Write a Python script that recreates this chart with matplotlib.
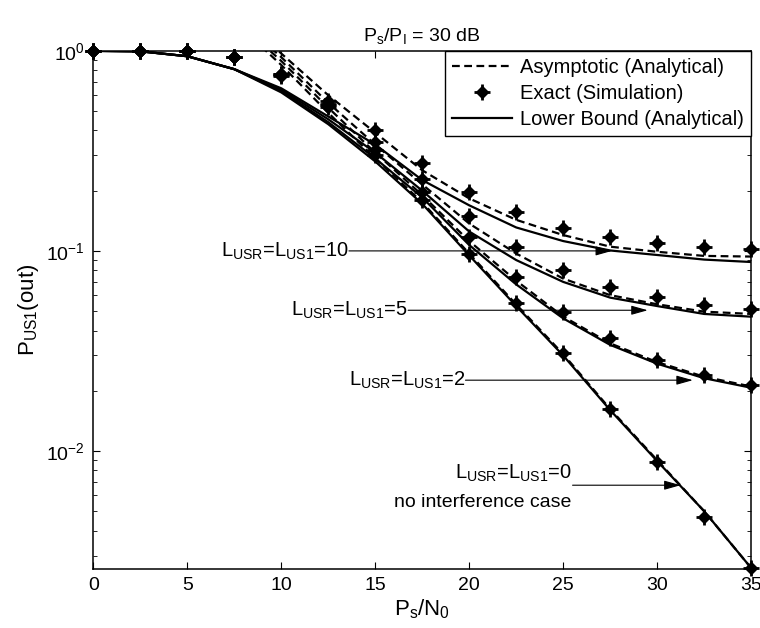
import numpy as np
import matplotlib
matplotlib.use("Agg")
import matplotlib.pyplot as plt
from matplotlib.lines import Line2D

plt.rcParams['font.family'] = ['Liberation Sans', 'DejaVu Sans']
plt.rcParams['mathtext.default'] = 'regular'

# SNR grid (dB)
snr = [0, 2.5, 5, 7.5, 10, 12.5, 15, 17.5, 20, 22.5, 25, 27.5, 30, 32.5, 35]
cases = [10, 5, 2, 0]

# exact (simulation) markers, one list per L_USR = L_US1
exact_L10 = [1.0, 1.0, 0.995, 0.935, 0.77, 0.56, 0.401, 0.274, 0.197, 0.157, 0.130, 0.118, 0.110, 0.104, 0.1017]
exact_L5 = [1.0, 1.0, 0.995, 0.935, 0.765, 0.545, 0.351, 0.228, 0.149, 0.105, 0.080, 0.0662, 0.0589, 0.0535, 0.0515]
exact_L2 = [1.0, 1.0, 0.995, 0.935, 0.755, 0.535, 0.319, 0.197, 0.118, 0.074, 0.0494, 0.0365, 0.0286, 0.0239, 0.0213]
exact_L0 = [1.0, 1.0, 0.995, 0.935, 0.745, 0.525, 0.301, 0.179, 0.097, 0.0546, 0.0307, 0.0162, 0.0088, 0.0047, 0.0026]

# lower bound (analytical)
lower_L10 = [1.0, 0.995, 0.94, 0.81, 0.65, 0.47, 0.34, 0.226, 0.169, 0.131, 0.112, 0.1005, 0.0954, 0.0905, 0.088]
lower_L5 = [1.0, 0.995, 0.94, 0.81, 0.64, 0.455, 0.31, 0.20, 0.125, 0.090, 0.070, 0.0584, 0.053, 0.0484, 0.0469]
lower_L2 = [1.0, 0.995, 0.94, 0.81, 0.63, 0.44, 0.29, 0.185, 0.107, 0.068, 0.046, 0.0339, 0.0273, 0.0231, 0.0207]
lower_L0 = [1.0, 0.995, 0.94, 0.81, 0.62, 0.43, 0.28, 0.172, 0.095, 0.053, 0.030, 0.016, 0.0089, 0.005, 0.0026]

# asymptotic (analytical), from 7.5 dB on (above 1 it is off the plot)
snr_asym = snr[3:]
asym_L10 = [1.6, 0.97, 0.60, 0.39, 0.253, 0.183, 0.143, 0.120, 0.105, 0.099, 0.0944, 0.0937]
asym_L5 = [1.5, 0.93, 0.55, 0.34, 0.215, 0.137, 0.097, 0.0727, 0.0601, 0.0541, 0.0497, 0.0484]
asym_L2 = [1.45, 0.89, 0.52, 0.31, 0.19, 0.112, 0.071, 0.047, 0.0345, 0.0278, 0.0235, 0.021]
asym_L0 = [1.4, 0.85, 0.49, 0.29, 0.175, 0.097, 0.054, 0.0305, 0.0162, 0.009, 0.005, 0.0026]

exact = [exact_L10, exact_L5, exact_L2, exact_L0]
lower = [lower_L10, lower_L5, lower_L2, lower_L0]
asym = [asym_L10, asym_L5, asym_L2, asym_L0]

fig = plt.figure(figsize=(7.6, 6.28), dpi=100)
ax = fig.add_axes([0.1228, 0.094, 0.8655, 0.825])

for i in range(len(cases)):
    ax.semilogy(snr_asym, asym[i], color='k', lw=1.6, ls=(0, (3.5, 2)))
    ax.semilogy(snr, lower[i], color='k', lw=1.6, ls='-')
    ax.semilogy(snr, exact[i], ls='none', marker='D', ms=6.5, color='k', clip_on=False, zorder=4)
    ax.semilogy(snr, exact[i], ls='none', marker='+', ms=11, mew=2, color='k', clip_on=False, zorder=4)

ax.set_xlim(0, 35)
ax.set_ylim(0.00257, 1)
ax.set_xticks(range(0, 36, 5))
ax.tick_params(which='both', direction='in', top=True, right=True, labelsize=14, pad=6)
ax.tick_params(which='major', length=5)
ax.tick_params(which='minor', length=3)
for s in ax.spines.values():
    s.set_linewidth(1.1)

ax.set_xlabel('$P_s/N_0$', fontsize=16, labelpad=2)
ax.set_ylabel('$P_{US1}(out)$', fontsize=16, labelpad=4)
ax.set_title('$P_s/P_I$ = 30 dB', fontsize=14, pad=7)

# legend
h_asym = Line2D([], [], color='k', lw=1.6, ls=(0, (3.5, 2)))
h_ex = (Line2D([], [], ls='none', marker='D', ms=6.5, color='k'),
        Line2D([], [], ls='none', marker='+', ms=11, mew=2, color='k'))
h_low = Line2D([], [], color='k', lw=1.6)
leg = ax.legend([h_asym, h_ex, h_low],
                ['Asymptotic (Analytical)', 'Exact (Simulation)', 'Lower Bound (Analytical)'],
                loc='upper right', borderaxespad=0, fontsize=14.5, handlelength=3.0,
                fancybox=False, framealpha=1, edgecolor='k', borderpad=0.35,
                labelspacing=0.35, handletextpad=0.4)
leg.get_frame().set_linewidth(1.0)

# annotations: (label, text right end x, y, arrow head x)
labels = ['L$_{USR}$=L$_{US1}$=10', 'L$_{USR}$=L$_{US1}$=5', 'L$_{USR}$=L$_{US1}$=2']
text_x = [13.6, 16.75, 19.8]
text_y = [0.1, 0.0505, 0.02258]
head_x = [27.6, 29.5, 31.9]
arrow = dict(arrowstyle='-|>,head_length=1.0,head_width=0.28', color='k', lw=0.8,
             shrinkA=0, shrinkB=0)
for lab, tx, ty, hx in zip(labels, text_x, text_y, head_x):
    ax.text(tx, ty, lab, ha='right', va='center', fontsize=14.5)
    ax.annotate('', xy=(hx, ty), xytext=(tx, ty), arrowprops=arrow)

ax.text(25.45, 0.00774, 'L$_{USR}$=L$_{US1}$=0', ha='right', va='center', fontsize=14.5)
ax.text(25.45, 0.00554, 'no interference case', ha='right', va='center', fontsize=14)
ax.annotate('', xy=(31.25, 0.00674), xytext=(25.5, 0.00674), arrowprops=arrow)

fig.savefig('out.png', dpi=100)
